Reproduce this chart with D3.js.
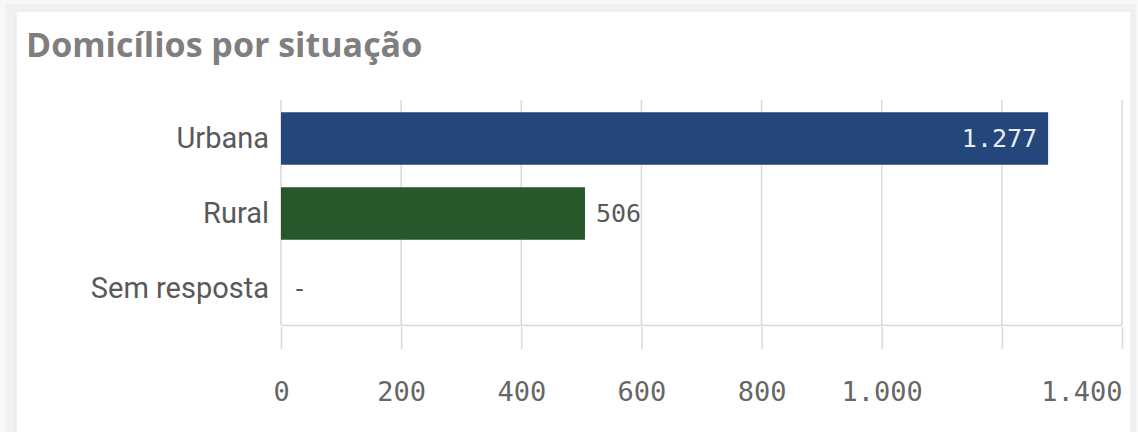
<!DOCTYPE html>
<html>
<head>
<meta charset="utf-8">
<script src="https://cdn.jsdelivr.net/npm/d3@7"></script>
<style>
  html, body { margin: 0; padding: 0; background: #f4f4f4; }
  svg { display: block; }
</style>
</head>
<body>
<svg id="chart" width="1138" height="432"></svg>
<script>
const title = "Domicílios por situação";
const categories = ["Urbana", "Rural", "Sem resposta"];
const values = [1277, 506, null];
const barColors = ["#24477b", "#27582c", "#999999"];
const gridValues = [0, 200, 400, 600, 800, 1000, 1200, 1400];
const tickLabelValues = [0, 200, 400, 600, 800, 1000, 1400];

const W = 1138, H = 432;
const svg = d3.select("#chart");
const ptBR = d3.formatLocale({decimal: ",", thousands: ".", grouping: [3], currency: ["", ""]});
const fmt = ptBR.format(",d");

// card background with soft shadow
svg.append("rect").attr("x", 0).attr("y", 0).attr("width", W).attr("height", H).attr("fill", "#f7f7f7");
svg.append("rect").attr("x", 6).attr("y", 4).attr("width", 1130).attr("height", H).attr("fill", "#f0f0f0");
svg.append("rect").attr("x", 16).attr("y", 11).attr("width", 1115).attr("height", H).attr("fill", "#ffffff")
  .attr("stroke", "#e8e8e8").attr("stroke-width", 1);

svg.append("text")
  .attr("x", 26).attr("y", 57)
  .attr("font-family", "'Open Sans', Roboto, sans-serif")
  .attr("font-weight", "bold")
  .attr("font-size", 34)
  .attr("fill", "#7f7f7f")
  .text(title);

const x = d3.scaleLinear().domain([0, 1400]).range([281, 1122]);
const y = d3.scaleBand().domain(categories).range([101, 326]).paddingInner(0.3).paddingOuter(0.15);

const plotTop = 100, axisY = 325;

// gridlines
svg.append("g").selectAll("line").data(gridValues).join("line")
  .attr("x1", d => x(d)).attr("x2", d => x(d))
  .attr("y1", plotTop).attr("y2", axisY)
  .attr("stroke", "#d9d9d9").attr("stroke-width", 1.5);

// bars
svg.append("g").selectAll("rect").data(categories.map((c, i) => ({c, v: values[i], i}))).join("rect")
  .filter(d => d.v != null)
  .attr("x", x(0))
  .attr("y", d => y(d.c))
  .attr("width", d => x(d.v) - x(0))
  .attr("height", y.bandwidth())
  .attr("fill", d => barColors[d.i]);

// value labels
const monoFont = "'DejaVu Sans Mono', 'Liberation Mono', monospace";
categories.forEach((c, i) => {
  const v = values[i];
  const cy = y(c) + y.bandwidth() / 2;
  const t = svg.append("text")
    .attr("font-family", monoFont)
    .attr("font-size", 25)
    .attr("dominant-baseline", "central");
  if (v == null) {
    t.attr("x", x(0) + 11).attr("y", cy).attr("fill", "#595959").text("-");
  } else if (x(v) - x(0) > 500) {
    t.attr("x", x(v) - 11).attr("y", cy).attr("text-anchor", "end").attr("fill", "#e8ecf2").text(fmt(v));
  } else {
    t.attr("x", x(v) + 11).attr("y", cy).attr("fill", "#595959").text(fmt(v));
  }
});

// y axis (category labels)
const yAxis = d3.axisLeft(y).tickSize(0).tickPadding(12);
const gy = svg.append("g").attr("transform", `translate(${x(0)},0)`).call(yAxis);
gy.select(".domain").remove();
gy.selectAll("text")
  .attr("font-family", "Roboto, 'Open Sans', sans-serif")
  .attr("font-size", 29)
  .attr("fill", "#595959");

// x axis
const xAxis = d3.axisBottom(x).tickValues(gridValues).tickSize(24).tickSizeOuter(0).tickPadding(0)
  .tickFormat(d => tickLabelValues.includes(d) ? fmt(d) : "");
const gx = svg.append("g").attr("transform", `translate(0,${axisY})`).call(xAxis);
gx.select(".domain").attr("stroke", "#d9d9d9").attr("stroke-width", 1.5);
gx.selectAll(".tick line").attr("stroke", "#d9d9d9").attr("stroke-width", 1.5).attr("y1", 2);
gx.selectAll(".tick text")
  .attr("font-family", monoFont)
  .attr("font-size", 27)
  .attr("fill", "#666666")
  .attr("dy", null)
  .attr("y", 76)
  .attr("text-anchor", d => d === 1400 ? "end" : "middle");
</script>
</body>
</html>
